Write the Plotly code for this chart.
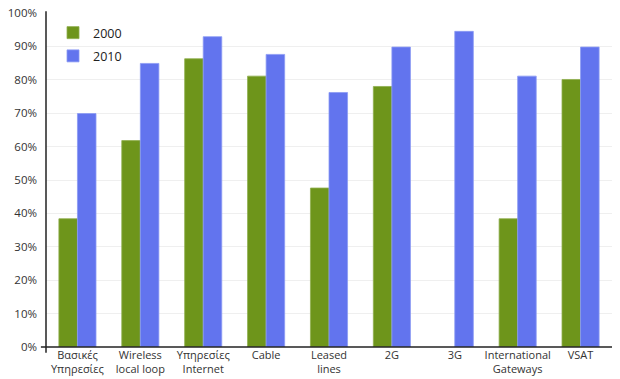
import plotly.graph_objects as go

categories = ["Βασικές<br>Υπηρεσίες", "Wireless<br>local loop", "Υπηρεσίες<br>Internet", "Cable",
              "Leased<br>lines", "2G", "3G", "International<br>Gateways", "VSAT"]
values_2000 = [38.4, 61.8, 86.3, 81.1, 47.6, 78.0, None, 38.4, 80.1]
values_2010 = [69.9, 84.9, 92.9, 87.6, 76.2, 89.8, 94.5, 81.1, 89.8]
y_ticks = [0, 10, 20, 30, 40, 50, 60, 70, 80, 90, 100]
y_tick_labels = [f"{v}%" for v in y_ticks]

GREEN = "#6E951B"
BLUE = "#6274EE"
FONT = "Open Sans"

fig = go.Figure()
fig.add_trace(go.Bar(name="2000", x=categories, y=values_2000, legendgroup="a",
                     marker=dict(color=GREEN, line=dict(color="#8FAE4E", width=0.8))))
fig.add_trace(go.Bar(name="2010", x=categories, y=values_2010, legendgroup="b",
                     marker=dict(color=BLUE, line=dict(color="#8C9AF4", width=0.8))))

fig.update_layout(
    width=620, height=379,
    margin=dict(l=46, r=8, t=13, b=32),
    plot_bgcolor="white", paper_bgcolor="white",
    barmode="group", bargap=0.41, bargroupgap=0,
    font=dict(family=FONT, size=11.5, color="#333333"),
    legend=dict(x=0.0124, y=0.985, xanchor="left", yanchor="top", bgcolor="rgba(0,0,0,0)",
                font=dict(family=FONT, size=12.5, color="#222222"), traceorder="grouped",
                tracegroupgap=4),
    showlegend=True,
)
fig.update_xaxes(showline=False, ticks="", showgrid=False, tickfont=dict(size=11, color="#333333"),
                 tickangle=0, automargin=False)
fig.update_yaxes(range=[0, 100], tickvals=y_ticks, ticktext=y_tick_labels, showgrid=True,
                 gridcolor="#efefef", gridwidth=1, zeroline=False, showline=False, ticks="",
                 ticklabelstandoff=8, tickfont=dict(size=11.5, color="#333333"), automargin=False,
                 ticklabeloverflow="allow")
# axis lines extending slightly past the origin
fig.add_shape(type="line", xref="paper", yref="paper", x0=0, x1=0, y0=-0.017, y1=1.005,
              line=dict(color="#222222", width=1.5))
fig.add_shape(type="line", xref="paper", yref="paper", x0=-0.009, x1=1, y0=0, y1=0,
              line=dict(color="#222222", width=1.5))

# remove the browser's default 8px body margin so the figure fills the window
fig.write_html("out.html", config={"displayModeBar": False},
               post_script="document.body.style.margin='0';document.body.style.overflow='hidden';")
